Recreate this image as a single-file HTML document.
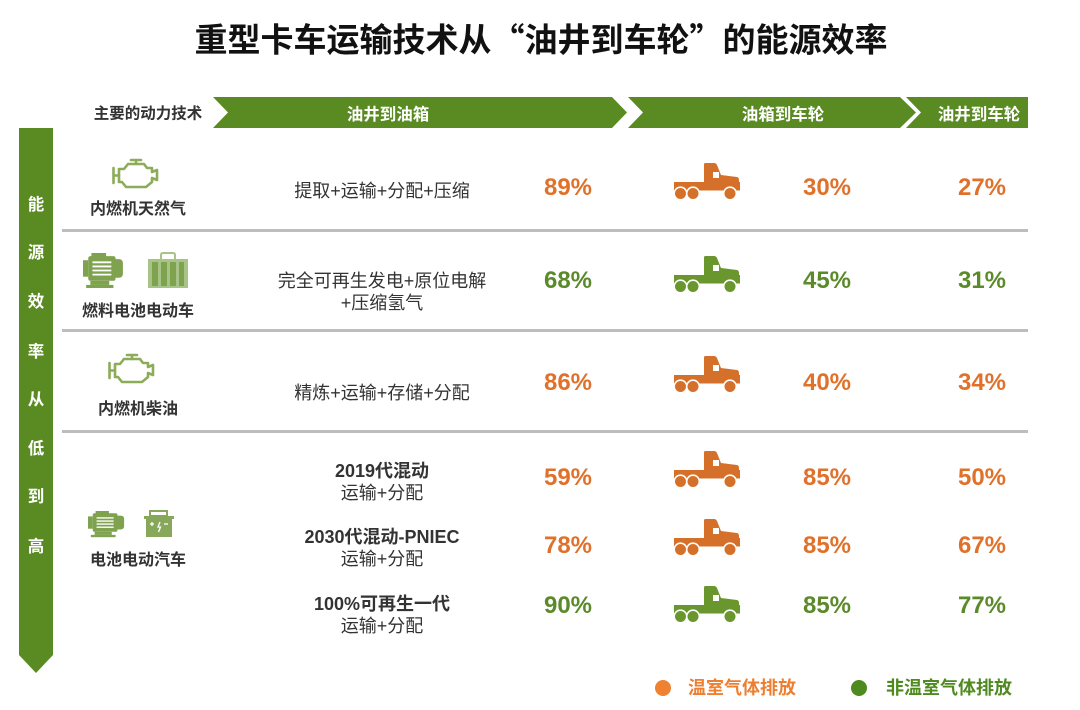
<!DOCTYPE html>
<html>
<head>
<meta charset="utf-8">
<style>
html,body{margin:0;padding:0;background:#fff;}
body{width:1080px;height:710px;position:relative;overflow:hidden;font-family:"Liberation Sans","Noto Sans CJK SC",sans-serif;}
.t{position:absolute;transform:translate(-50%,-50%);white-space:nowrap;line-height:1;}
.title{font-family:"Noto Sans CJK SC","WenQuanYi Zen Hei",sans-serif;font-weight:700;font-size:33px;color:#111;}
.hd{font-family:"Noto Sans CJK SC",sans-serif;font-weight:700;font-size:16.5px;color:#fff;}
.vt{font-family:"Noto Sans CJK SC",sans-serif;font-weight:700;font-size:16.5px;color:#fff;}
.lbl{font-family:"Liberation Sans","Noto Sans CJK SC",sans-serif;font-weight:700;font-size:16px;color:#333;}
.lbl2{font-family:"Liberation Sans","Noto Sans CJK SC",sans-serif;font-weight:700;font-size:15.5px;color:#333;}
.pr{font-family:"Liberation Sans","Noto Sans CJK SC",sans-serif;font-size:18px;color:#333;text-align:center;line-height:22px;}
.prb{font-weight:700;}
.pc{font-family:"Liberation Sans",sans-serif;font-weight:700;font-size:24px;}
.o{color:#e0712b;}
.g{color:#5b8a2a;}
.lg{font-family:"Liberation Sans","Noto Sans CJK SC",sans-serif;font-weight:700;font-size:18px;}
svg{position:absolute;left:0;top:0;}
</style>
</head>
<body>
<svg width="1080" height="710" viewBox="0 0 1080 710" xmlns="http://www.w3.org/2000/svg">
  <defs>
    <g id="truck">
      <rect x="0" y="19" width="66" height="8.5" />
      <path d="M30 1.5 Q30 0 31.5 0 L40 0 Q42 0 43 2 L47 12 L63 14 Q65 14.5 65 17 L65 27 L30 27 Z"/>
      <rect x="39" y="9" width="6" height="6" fill="#fff"/>
      <circle cx="6.5" cy="30.5" r="6.3" stroke="#fff" stroke-width="1.6"/>
      <circle cx="19" cy="30.5" r="6.3" stroke="#fff" stroke-width="1.6"/>
      <circle cx="56" cy="30.5" r="6.3" stroke="#fff" stroke-width="1.6"/>
    </g>
    <g id="engine" fill="none" stroke="#8dac5a" stroke-width="2.6" stroke-linejoin="round" stroke-linecap="round">
      <path d="M7 10 L12 10 L16 5 L32 5 L35 9 L40 9 L40 13 L45 11 L45 21 L40 19 L40 23 L34 28 L14 28 L10 23 L7 23 Z"/>
      <path d="M19 1 L29 1 M24 1 L24 5"/>
      <path d="M1.5 9 L1.5 24 M1.5 16.5 L7 16.5"/>
    </g>
    <g id="motor" fill="#7ea24e">
      <rect x="0" y="7" width="5" height="16"/>
      <rect x="5" y="3" width="26" height="24" rx="2"/>
      <path d="M28 6 L34 6 Q38 6 38 10 L38 20 Q38 24 34 24 L28 24 Z"/>
      <rect x="8" y="0" width="14" height="4"/>
      <rect x="7" y="27" width="18" height="4"/>
      <rect x="3" y="31" width="26" height="3"/>
      <g stroke="#fff" stroke-width="1.8">
        <line x1="9" y1="9" x2="27" y2="9"/>
        <line x1="9" y1="13" x2="27" y2="13"/>
        <line x1="9" y1="17" x2="27" y2="17"/>
        <line x1="9" y1="21" x2="27" y2="21"/>
      </g>
    </g>
  </defs>

  <!-- header banners -->
  <polygon points="213,97 612,97 627,112.5 612,128 213,128 228,112.5" fill="#5a8b22"/>
  <polygon points="628,97 900,97 916,112.5 900,128 628,128 643,112.5" fill="#5a8b22"/>
  <polygon points="906,97 1028,97 1028,128 906,128 921,112.5" fill="#5a8b22"/>

  <!-- vertical bar -->
  <polygon points="19,128 53,128 53,655 36,673 19,655" fill="#5a8b22"/>

  <!-- row separators -->
  <rect x="62" y="229" width="966" height="3" fill="#bdbdbd"/>
  <rect x="62" y="329" width="966" height="3" fill="#bdbdbd"/>
  <rect x="62" y="430" width="966" height="3" fill="#bdbdbd"/>

  <!-- icons -->
  <use href="#engine" transform="translate(112,159)"/>
  <use href="#engine" transform="translate(108,354)"/>

  <!-- row2 motor -->
  <use href="#motor" transform="translate(83,253) scale(1.05,1.03)"/>
  <!-- row2 fuel cell -->
  <g transform="translate(148,253)" fill="#a8c387">
    <path d="M13 6 L13 2 Q13 0 15 0 L25 0 Q27 0 27 2 L27 6" fill="none" stroke="#a8c387" stroke-width="2"/>
    <rect x="0" y="6" width="40" height="29"/>
    <g fill="#7ea24e">
      <rect x="4" y="9" width="6" height="24"/>
      <rect x="13" y="9" width="6" height="24"/>
      <rect x="22" y="9" width="6" height="24"/>
      <rect x="31" y="9" width="5" height="24"/>
    </g>
  </g>

  <!-- row4 motor -->
  <use href="#motor" transform="translate(88,511) scale(0.95,0.77)"/>
  <!-- row4 battery -->
  <g transform="translate(144,511)" fill="#87a85a">
    <rect x="6" y="0" width="17" height="5" fill="none" stroke="#87a85a" stroke-width="2"/>
    <rect x="0" y="5" width="30" height="3"/>
    <rect x="2" y="8" width="26" height="18"/>
    <g stroke="#fff" stroke-width="1.3" fill="none">
      <line x1="6" y1="13" x2="10" y2="13"/><line x1="8" y1="11" x2="8" y2="15"/>
      <line x1="20" y1="13" x2="24" y2="13"/>
      <path d="M16 11 L14 16 L16.5 16 L14.5 21"/>
    </g>
  </g>

  <!-- trucks -->
  <use href="#truck" transform="translate(674,163)" fill="#d4702a"/>
  <use href="#truck" transform="translate(674,256)" fill="#6a962e"/>
  <use href="#truck" transform="translate(674,356)" fill="#d4702a"/>
  <use href="#truck" transform="translate(674,451)" fill="#d4702a"/>
  <use href="#truck" transform="translate(674,519)" fill="#d4702a"/>
  <use href="#truck" transform="translate(674,586)" fill="#6a962e"/>

  <!-- legend circles -->
  <circle cx="663" cy="688" r="8" fill="#ef8132"/>
  <circle cx="859" cy="688" r="8" fill="#4f8a1e"/>
</svg>

<div class="t title" style="left:541px;top:38px;">重型卡车运输技术从“油井到车轮”的能源效率</div>

<div class="t lbl2" style="left:148px;top:114px;">主要的动力技术</div>
<div class="t hd" style="left:388px;top:113px;">油井到油箱</div>
<div class="t hd" style="left:783px;top:113px;">油箱到车轮</div>
<div class="t hd" style="left:979px;top:113px;">油井到车轮</div>

<div class="t vt" style="left:36px;top:203px;">能</div>
<div class="t vt" style="left:36px;top:251px;">源</div>
<div class="t vt" style="left:36px;top:300px;">效</div>
<div class="t vt" style="left:36px;top:350px;">率</div>
<div class="t vt" style="left:36px;top:398px;">从</div>
<div class="t vt" style="left:36px;top:447px;">低</div>
<div class="t vt" style="left:36px;top:495px;">到</div>
<div class="t vt" style="left:36px;top:545px;">高</div>

<!-- row labels -->
<div class="t lbl" style="left:138px;top:210px;">内燃机天然气</div>
<div class="t lbl" style="left:138px;top:312px;">燃料电池电动车</div>
<div class="t lbl" style="left:138px;top:410px;">内燃机柴油</div>
<div class="t lbl" style="left:138px;top:561px;">电池电动汽车</div>

<!-- process text -->
<div class="t pr" style="left:382px;top:191px;">提取+运输+分配+压缩</div>
<div class="t pr" style="left:382px;top:292px;">完全可再生发电+原位电解<br>+压缩氢气</div>
<div class="t pr" style="left:382px;top:393px;">精炼+运输+存储+分配</div>
<div class="t pr" style="left:382px;top:482px;"><span class="prb">2019代混动</span><br>运输+分配</div>
<div class="t pr" style="left:382px;top:548px;"><span class="prb">2030代混动-PNIEC</span><br>运输+分配</div>
<div class="t pr" style="left:382px;top:615px;"><span class="prb">100%可再生一代</span><br>运输+分配</div>

<!-- percents col1 -->
<div class="t pc o" style="left:568px;top:188px;">89%</div>
<div class="t pc g" style="left:568px;top:281px;">68%</div>
<div class="t pc o" style="left:568px;top:383px;">86%</div>
<div class="t pc o" style="left:568px;top:478px;">59%</div>
<div class="t pc o" style="left:568px;top:546px;">78%</div>
<div class="t pc g" style="left:568px;top:606px;">90%</div>
<!-- col2 -->
<div class="t pc o" style="left:827px;top:188px;">30%</div>
<div class="t pc g" style="left:827px;top:281px;">45%</div>
<div class="t pc o" style="left:827px;top:383px;">40%</div>
<div class="t pc o" style="left:827px;top:478px;">85%</div>
<div class="t pc o" style="left:827px;top:546px;">85%</div>
<div class="t pc g" style="left:827px;top:606px;">85%</div>
<!-- col3 -->
<div class="t pc o" style="left:982px;top:188px;">27%</div>
<div class="t pc g" style="left:982px;top:281px;">31%</div>
<div class="t pc o" style="left:982px;top:383px;">34%</div>
<div class="t pc o" style="left:982px;top:478px;">50%</div>
<div class="t pc o" style="left:982px;top:546px;">67%</div>
<div class="t pc g" style="left:982px;top:606px;">77%</div>

<!-- legend -->
<div class="t lg" style="left:742px;top:688px;color:#ee7f30;">温室气体排放</div>
<div class="t lg" style="left:949px;top:688px;color:#4f8a1e;">非温室气体排放</div>
</body>
</html>
